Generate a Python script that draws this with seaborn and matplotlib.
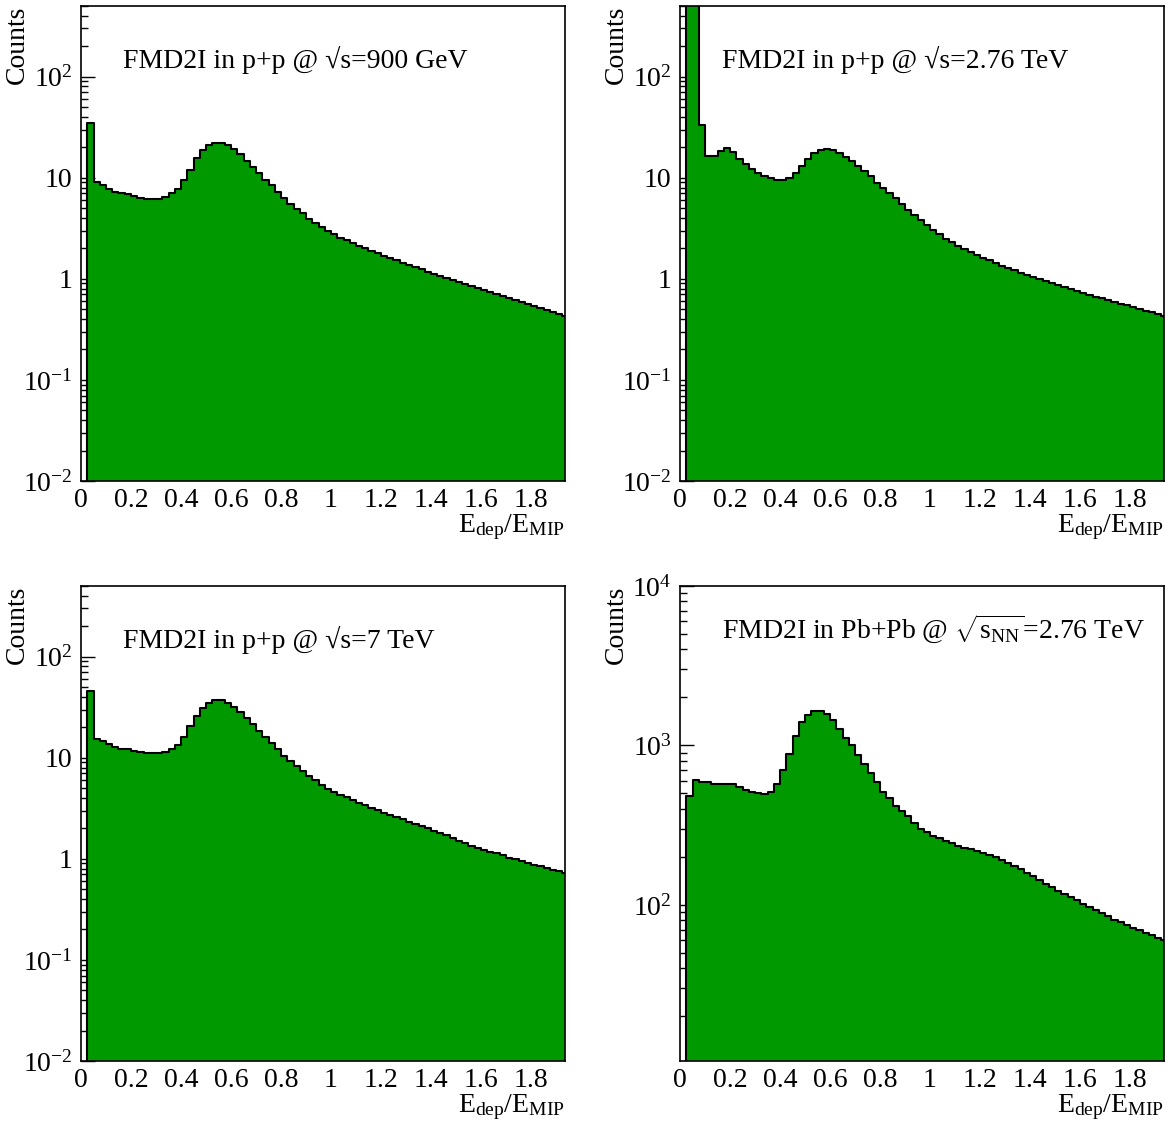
import numpy as np
import pandas as pd
import matplotlib
matplotlib.use("Agg")
import matplotlib.pyplot as plt
from matplotlib.ticker import LogLocator, MultipleLocator, FuncFormatter, NullFormatter
import seaborn as sns

# binning of the energy-loss histograms (E_dep/E_MIP)
bin_width = 0.025
n_bins = 78
bin_edges = [round(k * bin_width, 4) for k in range(n_bins + 1)]
bin_centers = [round((k + 0.5) * bin_width, 4) for k in range(n_bins)]

counts_pp900 = [
    0, 35, 9.05, 8.4, 7.8, 7.3, 7.0, 6.85, 6.6, 6.3,
    6.2, 6.2, 6.2, 6.5, 7.0, 7.8, 9.5, 11.9, 15.8, 18.8,
    21.0, 22.0, 22.0, 21.0, 19.1, 17.0, 14.7, 12.8, 11.2, 9.6,
    8.4, 7.2, 6.3, 5.56, 4.9, 4.5, 3.95, 3.55, 3.25, 2.98,
    2.75, 2.56, 2.40, 2.26, 2.13, 2.01, 1.90, 1.80, 1.70, 1.61,
    1.53, 1.45, 1.38, 1.31, 1.24, 1.18, 1.12, 1.07, 1.02, 0.97,
    0.93, 0.885, 0.845, 0.81, 0.775, 0.74, 0.705, 0.675, 0.645, 0.615,
    0.585, 0.56, 0.535, 0.51, 0.49, 0.47, 0.45, 0.43,
]
counts_pp2760 = [
    0, 2000, 900, 33.2, 16.4, 16.4, 18.3, 19.5, 17.9, 15.4,
    13.6, 12.3, 11.2, 10.4, 9.85, 9.55, 9.55, 10.0, 11.2, 13.0,
    15.4, 17.4, 18.8, 19.4, 18.8, 17.7, 16.1, 14.6, 13.0, 11.6,
    10.4, 8.9, 7.96, 7.1, 6.3, 5.56, 4.85, 4.3, 3.8, 3.4,
    3.05, 2.75, 2.5, 2.3, 2.12, 1.98, 1.85, 1.73, 1.62, 1.52,
    1.43, 1.35, 1.28, 1.21, 1.15, 1.09, 1.04, 0.99, 0.945, 0.905,
    0.865, 0.825, 0.79, 0.755, 0.725, 0.695, 0.665, 0.64, 0.615, 0.59,
    0.565, 0.545, 0.525, 0.505, 0.485, 0.465, 0.45, 0.43,
]
counts_pp7000 = [
    0, 45.7, 15.5, 14.6, 13.7, 12.7, 12.3, 12.1, 11.6, 11.4,
    11.1, 11.1, 11.2, 11.4, 12.1, 13.5, 16.1, 20.6, 25.8, 31.3,
    35.0, 37.2, 37.2, 35.0, 32.0, 28.5, 24.9, 21.4, 18.3, 16.1,
    14.1, 12.1, 10.5, 9.25, 8.26, 7.4, 6.6, 5.96, 5.4, 4.95,
    4.6, 4.3, 4.05, 3.8, 3.58, 3.38, 3.2, 3.03, 2.87, 2.72,
    2.58, 2.45, 2.33, 2.21, 2.1, 2.0, 1.9, 1.8, 1.71, 1.6,
    1.50, 1.42, 1.35, 1.29, 1.23, 1.18, 1.13, 1.08, 1.03, 0.99,
    0.95, 0.91, 0.875, 0.84, 0.81, 0.78, 0.75, 0.72,
]
counts_pbpb = [
    0, 484, 606, 593, 593, 570, 573, 573, 575, 546,
    526, 513, 500, 493, 513, 576, 703, 888, 1140, 1400,
    1562, 1641, 1641, 1585, 1450, 1268, 1120, 1000, 875, 762,
    673, 589, 507, 465, 420, 386, 359, 328, 300, 285,
    272, 261, 252, 243, 235, 229, 224, 218, 212, 205,
    199, 192, 184, 176, 167, 159, 151, 143, 136, 129,
    122, 117, 112, 107, 102, 97, 93, 89, 85, 81,
    78, 75, 72, 69.5, 67, 64.5, 62, 60,
]

titles = [
    "FMD2I in p+p @ √s=900 GeV",
    "FMD2I in p+p @ √s=2.76 TeV",
    "FMD2I in p+p @ √s=7 TeV",
    r"FMD2I in Pb+Pb @ $\sqrt{\mathrm{s_{NN}}}$=2.76 TeV",
]
all_counts = [counts_pp900, counts_pp2760, counts_pp7000, counts_pbpb]
y_limits = [(0.01, 500), (0.01, 500), (0.01, 500), (10.5, 1e4)]

GREEN = "#009900"

sns.set_theme(style="white")
plt.rcParams["font.family"] = ["Liberation Serif", "DejaVu Serif"]
plt.rcParams["mathtext.fontset"] = "custom"
plt.rcParams["mathtext.rm"] = "Liberation Serif"
plt.rcParams["mathtext.it"] = "Liberation Serif:italic"
plt.rcParams["mathtext.bf"] = "Liberation Serif:bold"
plt.rcParams["text.color"] = "black"
plt.rcParams["axes.labelcolor"] = "black"


def log_label(v, pos):
    e = int(round(np.log10(v)))
    if e == 0:
        return "1"
    if e == 1:
        return "10"
    return f"$10^{{{e}}}$"


FW, FH = 1169, 1126
W, H = 483.75, 475
corners = [(81, 6), (680, 6), (81, 586), (680, 586)]
text_y = [0.869, 0.869, 0.869, 0.888]

fig = plt.figure(figsize=(FW / 100, FH / 100), dpi=100)

for i, counts in enumerate(all_counts):
    left, top = corners[i]
    ax = fig.add_axes([left / FW, 1 - (top + H) / FH, W / FW, H / FH])
    df = pd.DataFrame({"edep": bin_centers, "counts": counts})
    sns.histplot(
        data=df, x="edep", weights="counts", bins=bin_edges,
        element="step", fill=True, color=GREEN, alpha=1,
        edgecolor="black", linewidth=1.5, ax=ax,
    )
    ax.set_yscale("log")
    ax.set_xlim(0, 1.935)
    ax.set_ylim(*y_limits[i])
    ax.set_xlabel("")
    ax.set_ylabel("")

    ax.xaxis.set_major_locator(MultipleLocator(0.2))
    ax.xaxis.set_major_formatter(FuncFormatter(lambda v, p: f"{v:g}"))
    ax.yaxis.set_major_locator(LogLocator(base=10))
    ax.yaxis.set_minor_locator(LogLocator(base=10, subs=np.arange(2, 10)))
    ax.yaxis.set_major_formatter(FuncFormatter(log_label))
    ax.yaxis.set_minor_formatter(NullFormatter())

    ax.tick_params(which="both", direction="in", top=False, right=False,
                   bottom=True, left=True, labelsize=20, colors="black", width=1)
    ax.tick_params(axis="y", which="major", length=10, pad=6)
    ax.tick_params(axis="y", which="minor", length=5)
    ax.tick_params(axis="x", which="both", length=0, pad=5)
    for sp in ax.spines.values():
        sp.set_color("black")
        sp.set_linewidth(1.2)

    ax.text(42 / W, text_y[i], titles[i], transform=ax.transAxes,
            fontsize=20, ha="left", va="baseline")
    ax.text(1.0, -0.107, r"$\mathrm{E_{dep}/E_{MIP}}$", transform=ax.transAxes,
            fontsize=20, ha="right", va="baseline")
    ax.text(-64 / W, 1.0, "Counts", transform=ax.transAxes, rotation=90,
            fontsize=20, ha="center", va="top")

fig.savefig("out.png", dpi=100)
